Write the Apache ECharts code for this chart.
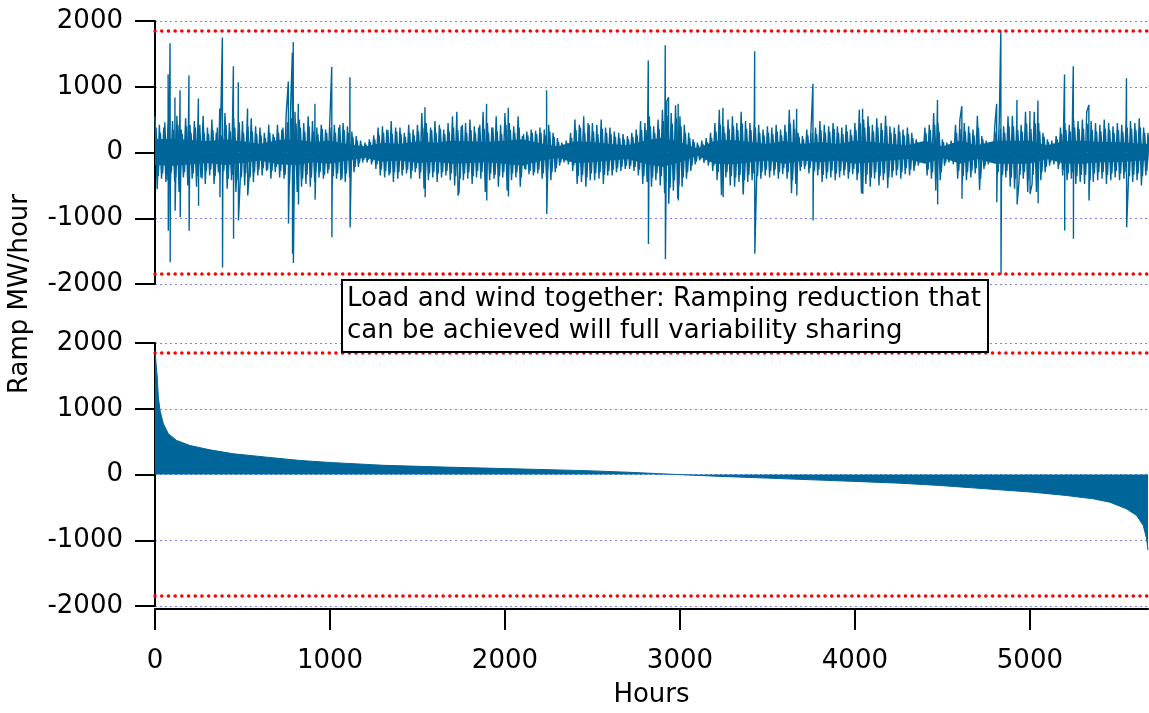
<!DOCTYPE html>
<html><head><meta charset="utf-8">
<script src="https://cdn.jsdelivr.net/npm/echarts@6/dist/echarts.min.js"></script>
<style>html,body{margin:0;padding:0;background:#fff}#c{width:1149px;height:713px}</style>
</head><body><div id="c"></div><script>
// ---------------- data ----------------
const xTicks = [0, 1000, 2000, 3000, 4000, 5000];
const yTicks = [-2000, -1000, 0, 1000, 2000];
const limitLines = [1850, -1850];
const lastHour = 5675;

// top panel: solid core of the hourly ramp series (envelope every 100 h)
const coreHours = [0,100,200,300,400,500,600,700,800,900,1000,1100,1200,1300,1400,1500,1600,1700,1800,1900,2000,2100,2200,2300,2400,2500,2600,2700,2800,2900,3000,3100,3200,3300,3400,3500,3600,3700,3800,3900,4000,4100,4200,4300,4400,4500,4600,4700,4800,4900,5000,5100,5200,5300,5400,5500,5600,5675];
const coreUp   = [200,210,190,170,200,170,130,190,200,160,180,130,90,150,130,170,150,180,170,160,180,200,140,90,170,160,130,110,180,230,160,60,180,190,160,130,180,130,160,130,180,160,130,110,180,90,180,110,180,180,180,110,180,180,160,160,140,130];
const coreDown = [-190,-200,-180,-160,-190,-160,-120,-180,-190,-150,-170,-120,-80,-140,-120,-160,-140,-170,-160,-150,-170,-200,-130,-80,-160,-150,-120,-100,-170,-220,-150,-50,-170,-180,-150,-120,-170,-120,-150,-120,-170,-150,-120,-100,-170,-80,-170,-100,-170,-170,-170,-100,-170,-170,-150,-150,-130,-120];

// top panel: ragged hourly ramps, sampled every 25 h (two interleaved up/down sequences)
const texStep = 25;
const texHi = [550,420,380,500, 480,560,350,520, 420,480,350,560, 380,500,300,420, 600,450,520,380,
  480,350,520,400, 380,300,420,280, 420,350,600,700, 620,500,450,550, 480,380,420,350,
  550,420,380,450, 400,320,250,180, 150,200,260,380, 400,350,480,380, 380,300,420,350,
  420,600,450,380, 480,420,350,450, 550,620,400,450, 500,400,380,620, 450,380,550,420,
  600,450,400,550, 250,320,350,330, 380,350,420,300, 220,150,180,300, 500,420,550,450,
  450,420,500,380, 380,320,300,280, 250,300,350,480, 450,550,400,500, 650,780,600,720,
  550,420,300,200, 150,180,220,300, 450,650,400,500, 550,450,620,480, 450,500,420,350,
  400,380,420,350, 420,650,500,300, 250,350,400,380, 480,420,400,450, 400,380,420,350,
  450,650,500,550, 420,520,450,560, 400,380,420,350, 380,300,200,150, 380,420,600,450,
  200,150,180,420, 500,450,400,350, 560,250,180,150, 420,480,400,550, 560,480,420,620,
  500,620,450,300, 200,180,250,380, 450,420,500,480, 500,620,480,450, 420,500,450,400,
  450,420,500,480, 450,520,380,300];
const texLo = [-560,-400,-450,-520, -450,-600,-380,-500, -400,-520,-380,-480, -350,-480,-300,-420, -550,-420,-600,-400,
  -500,-380,-450,-350, -350,-280,-400,-300, -380,-400,-650,-720, -600,-520,-480,-520, -450,-380,-400,-320,
  -500,-400,-420,-450, -380,-300,-220,-150, -150,-180,-250,-350, -380,-350,-450,-400, -350,-320,-400,-300,
  -400,-550,-420,-380, -450,-380,-350,-420, -500,-600,-420,-400, -480,-380,-400,-600, -420,-400,-520,-380,
  -580,-420,-380,-520, -250,-330,-350,-320, -400,-380,-420,-300, -200,-150,-180,-280, -480,-450,-520,-420,
  -420,-400,-480,-350, -350,-300,-280,-250, -250,-280,-350,-480, -450,-520,-420,-500, -620,-750,-580,-700,
  -520,-400,-280,-180, -120,-160,-200,-280, -420,-650,-380,-500, -520,-450,-600,-450, -420,-480,-400,-350,
  -380,-350,-400,-330, -400,-620,-480,-280, -250,-320,-380,-350, -450,-400,-380,-420, -380,-350,-400,-330,
  -420,-620,-480,-520, -400,-500,-420,-540, -380,-350,-400,-330, -350,-280,-200,-150, -350,-400,-580,-420,
  -200,-150,-180,-400, -500,-420,-380,-320, -570,-250,-180,-150, -400,-450,-380,-520, -550,-450,-400,-600,
  -480,-600,-420,-300, -200,-180,-250,-350, -420,-400,-480,-450, -480,-600,-450,-420, -400,-480,-420,-380,
  -420,-400,-480,-450, -420,-500,-350,-300];
const texHi2 = [380,300,460,320, 340,420,280,400, 300,380,420,300, 280,340,380,260, 420,320,380,460,
  300,400,320,280, 260,220,300,240, 300,380,460,520, 440,380,320,400, 320,280,360,300,
  380,300,420,340, 300,240,180,120, 120,160,200,260, 300,340,280,320, 280,240,300,260,
  320,380,300,340, 300,360,280,320, 380,340,420,300, 340,300,420,360, 300,380,320,280,
  420,340,300,380, 280,260,300,280, 300,260,320,240, 160,120,140,220, 340,380,300,420,
  320,280,360,300, 280,240,220,200, 200,240,260,340, 340,400,300,360, 480,560,440,520,
  400,300,220,160, 110,130,160,220, 320,420,300,360, 400,340,440,360, 340,380,300,260,
  300,280,320,260, 320,440,360,240, 200,260,300,280, 340,300,320,360, 300,280,320,260,
  340,440,380,400, 320,380,340,400, 300,280,320,260, 280,220,160,120, 300,340,420,320,
  160,120,140,300, 360,320,300,260, 380,200,140,120, 320,360,300,400, 400,340,320,440,
  360,440,320,240, 160,140,200,280, 340,320,380,360, 360,440,340,320, 320,360,340,300,
  340,320,380,360, 340,380,300,240];
const texLo2 = [-360,-320,-420,-300, -380,-400,-300,-360, -320,-360,-400,-280, -260,-360,-340,-280, -400,-340,-420,-380,
  -320,-380,-300,-260, -240,-260,-280,-220, -280,-340,-480,-500, -420,-400,-340,-380, -300,-300,-340,-260,
  -360,-320,-400,-320, -280,-220,-160,-110, -110,-140,-180,-260, -280,-320,-300,-300, -260,-260,-280,-240,
  -300,-400,-320,-300, -320,-300,-280,-320, -360,-400,-320,-300, -360,-280,-300,-420, -320,-340,-360,-300,
  -400,-320,-300,-380, -260,-280,-300,-260, -320,-280,-300,-240, -150,-120,-140,-200, -360,-340,-380,-320,
  -320,-300,-340,-280, -260,-240,-220,-200, -200,-220,-260,-360, -340,-380,-320,-360, -460,-540,-420,-500,
  -380,-300,-200,-140, -100,-120,-150,-200, -300,-440,-300,-360, -380,-340,-420,-340, -320,-360,-300,-260,
  -280,-260,-300,-240, -300,-420,-340,-220, -200,-240,-280,-260, -340,-300,-280,-320, -280,-260,-300,-250,
  -320,-420,-340,-380, -300,-360,-320,-380, -280,-260,-300,-240, -260,-200,-150,-110, -260,-300,-400,-300,
  -150,-110,-130,-280, -360,-300,-280,-240, -400,-200,-130,-110, -300,-340,-280,-380, -400,-340,-300,-420,
  -340,-420,-300,-220, -150,-130,-180,-260, -320,-300,-360,-340, -340,-420,-320,-300, -300,-340,-320,-280,
  -320,-300,-360,-340, -320,-360,-280,-220];

// top panel: the large individual ramps
const spikeHours  = [75,76,86,87,114,115,143,144,194,195,248,249,370,371,385,386,448,449,476,477,529,530,762,763,785,786,790,791,819,820,914,915,1010,1011,1114,1115,1543,1544,1731,1732,1895,1896,2019,2020,2238,2239,2819,2820,2916,2917,2935,2936,2990,2991,3246,3247,3360,3361,3427,3428,3667,3668,3760,3761,4044,4045,4472,4473,4611,4612,4810,4811,4834,4835,4926,4927,5000,5001,5046,5047,5198,5199,5248,5249,5337,5338,5552,5553];
const spikeValues = [1190,-1190,1660,-1670,835,-885,945,-985,1170,-1190,820,-810,670,-680,1750,-1750,1310,-1310,1070,-1035,670,-655,1080,-1080,1520,-1540,1680,-1680,740,-790,740,-720,1300,-1290,1145,-1140,690,-680,640,-655,740,-730,680,-670,945,-935,1400,-1390,1630,-1620,840,-780,740,-730,680,-680,640,-640,1540,-1540,665,-655,1045,-1035,665,-630,800,-790,705,-705,740,-755,1865,-1855,800,-790,630,-630,790,-770,1185,-1185,1313,-1313,725,-730,1130,-1135];

// bottom panel: the same ramps sorted (duration curve)
const curveHours  = [0,6,13,19,29,48,76,124,200,314,448,638,829,1019,1305,1500,1700,2000,2300,2500,2700,2900,3000,3200,3500,3800,4000,4257,4486,4829,5017,5210,5362,5457,5552,5610,5648,5667,5675];
const curveValues = [1870,1850,1480,1180,970,770,620,517,441,375,315,264,213,180,140,125,110,90,70,55,35,10,-2,-25,-55,-85,-105,-132,-167,-233,-269,-320,-370,-421,-522,-624,-776,-979,-1150];

const yAxisTitle = 'Ramp MW/hour';
const xAxisTitle = 'Hours';
const noteLines = ['Load and wind together: Ramping reduction that', 'can be achieved will full variability sharing'];

// ---------------- chart ----------------
const BLUE = '#006699';
const FONT = 'DejaVu Sans';
const FS = 26;
const zip = (xs, ys) => xs.map((x, i) => [x, ys[i]]);

const seriesPts = [];
texHi.forEach((v, i) => {
  seriesPts.push([i * texStep, v]);
  seriesPts.push([i * texStep + texStep / 2, texLo[i]]);
});
spikeHours.forEach((h, i) => seriesPts.push([h, spikeValues[i]]));
seriesPts.sort((a, b) => a[0] - b[0]);

const seriesPts2 = [];
texHi2.forEach((v, i) => {
  seriesPts2.push([i * texStep + texStep / 4, v]);
  seriesPts2.push([i * texStep + texStep * 3 / 4, texLo2[i]]);
});

const redLine = {
  silent: true, symbol: ['none', 'none'], label: { show: false },
  lineStyle: { color: '#ff0000', width: 3.5, type: [0.1, 6.6], cap: 'round' },
  data: limitLines.map(v => ({ yAxis: v }))
};

function yAxis(gi) {
  return {
    type: 'value', gridIndex: gi, min: yTicks[0], max: yTicks[yTicks.length - 1], interval: 1000,
    axisLine: { show: true, onZero: false, lineStyle: { color: '#000', width: 2 } },
    axisTick: { show: true, length: 20, lineStyle: { color: '#000', width: 2 } },
    axisLabel: { color: '#000', fontSize: FS, fontFamily: FONT, margin: 32, formatter: v => String(v) },
    splitLine: { show: true, lineStyle: { color: '#8080ff', width: 1, type: [2, 3] } }
  };
}

const chart = echarts.init(document.getElementById('c'), null, { renderer: 'canvas' });
chart.setOption({
  animation: false,
  backgroundColor: '#fff',
  grid: [
    { left: 155, top: 21, width: 993, height: 263, outerBoundsMode: 'none', containLabel: false },
    { left: 155, top: 343, width: 993, height: 263, outerBoundsMode: 'none', containLabel: false }
  ],
  xAxis: [
    { type: 'value', gridIndex: 0, min: 0, max: lastHour, show: false },
    { type: 'value', gridIndex: 1, min: 0, max: lastHour, offset: 3,
      axisLine: { show: true, onZero: false, lineStyle: { color: '#000', width: 2 } },
      axisTick: { show: true, length: 21, customValues: xTicks, lineStyle: { color: '#000', width: 2 } },
      axisLabel: { color: '#000', fontSize: FS, fontFamily: FONT, margin: 39, customValues: xTicks, formatter: v => String(v) },
      splitLine: { show: false },
      name: xAxisTitle, nameLocation: 'middle', nameGap: 73,
      nameTextStyle: { color: '#000', fontSize: FS, fontFamily: FONT } }
  ],
  yAxis: [yAxis(0), yAxis(1)],
  series: [
    { type: 'line', xAxisIndex: 0, yAxisIndex: 0, data: zip(coreHours, coreUp), showSymbol: false,
      lineStyle: { color: BLUE, width: 0 }, areaStyle: { color: BLUE, opacity: 1 }, z: 2 },
    { type: 'line', xAxisIndex: 0, yAxisIndex: 0, data: zip(coreHours, coreDown), showSymbol: false,
      lineStyle: { color: BLUE, width: 0 }, areaStyle: { color: BLUE, opacity: 1 }, z: 2 },
    { type: 'line', xAxisIndex: 0, yAxisIndex: 0, data: seriesPts2, showSymbol: false,
      lineStyle: { color: BLUE, width: 1.3 }, z: 3 },
    { type: 'line', xAxisIndex: 0, yAxisIndex: 0, data: seriesPts, showSymbol: false,
      lineStyle: { color: BLUE, width: 1.4 }, z: 3, markLine: redLine },
    { type: 'line', xAxisIndex: 1, yAxisIndex: 1, data: zip(curveHours, curveValues), showSymbol: false,
      lineStyle: { color: BLUE, width: 1 }, areaStyle: { color: BLUE, opacity: 1 }, z: 2, markLine: redLine }
  ],
  graphic: [
    { type: 'text', x: 20, y: 294, rotation: Math.PI / 2,
      style: { text: yAxisTitle, fontSize: FS, fontFamily: FONT, fill: '#000', align: 'center', verticalAlign: 'middle' } },
    { type: 'rect', z: 100, shape: { x: 342, y: 280, width: 646, height: 72 },
      style: { fill: '#fff', stroke: '#000', lineWidth: 2 } },
    { type: 'text', z: 101, x: 347, y: 283,
      style: { text: noteLines.join('\n'), fontSize: FS, lineHeight: 32, fontFamily: FONT, fill: '#000', align: 'left', verticalAlign: 'top' } }
  ]
});
</script></body></html>
